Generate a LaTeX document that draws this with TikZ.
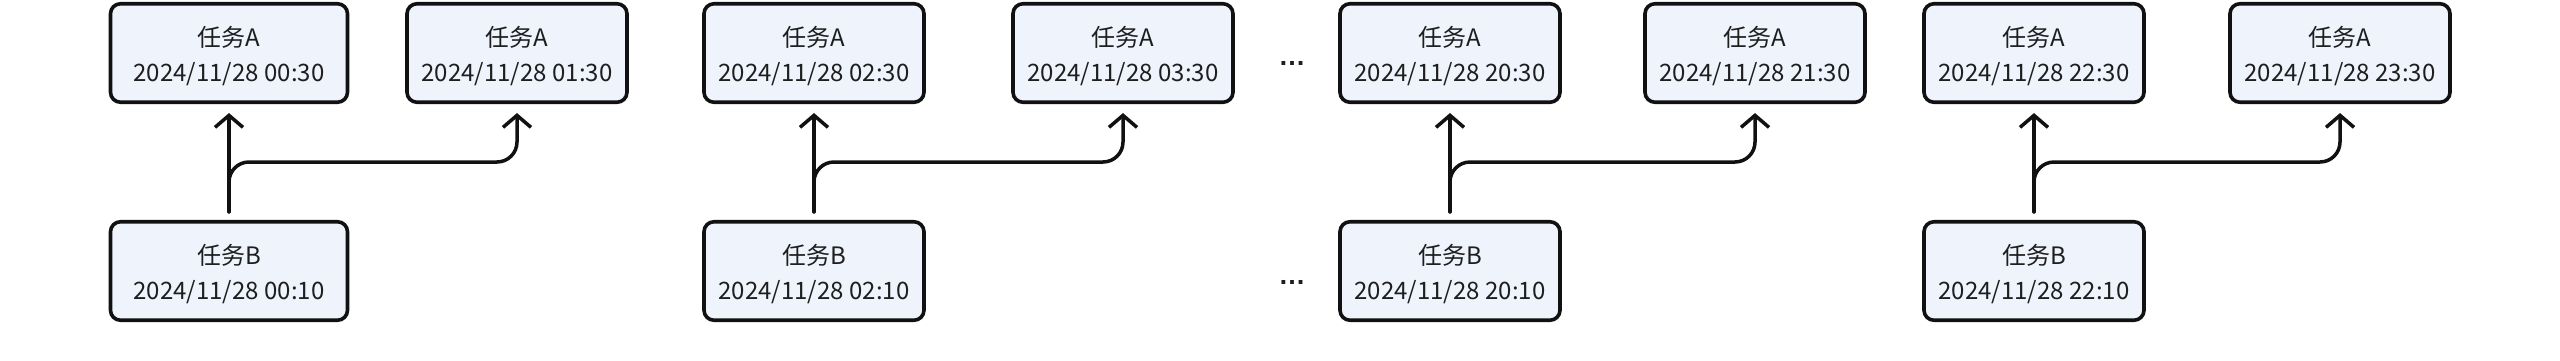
\documentclass[tikz,border=0pt]{standalone}
\usepackage{fontspec}
\setmainfont{Noto Sans CJK SC}
\newfontfamily\dotfont{Liberation Sans}
\usetikzlibrary{arrows.meta}
\definecolor{boxfill}{HTML}{EEF3FC}
\definecolor{txt}{HTML}{1E1E1E}
\definecolor{edge}{HTML}{111111}
\begin{document}
\begin{tikzpicture}[x=1pt,y=-1pt,
  task/.style={draw=edge, fill=boxfill, line width=3.6pt, rounded corners=10pt,
    minimum width=220pt, minimum height=98.5pt, align=center, inner sep=0pt,
    text height=61pt, font=\fontsize{24}{35}\selectfont, text=txt},
  wide/.style={minimum width=237pt},
  link/.style={draw=edge, line width=3.5pt, line cap=round, line join=round,
    -{Straight Barb[length=12pt,width=28pt]}, shorten <=8pt, shorten >=9pt},
  dots/.style={font=\dotfont\bfseries\fontsize{27}{27}\selectfont, text=txt, anchor=base, inner sep=0pt}
  ]
\fill[white] (0,0) rectangle (2560,360);
\useasboundingbox (0,0) rectangle (2560,360);
\coordinate (h) at (0,162);

\node[task,wide] (a1) at (229,53) {任务A\\2024/11/28 00:30};
\node[task] (a2) at (517,53) {任务A\\2024/11/28 01:30};
\node[task] (a3) at (814,53) {任务A\\2024/11/28 02:30};
\node[task] (a4) at (1123,53) {任务A\\2024/11/28 03:30};
\node[task] (a5) at (1450,53) {任务A\\2024/11/28 20:30};
\node[task] (a6) at (1755,53) {任务A\\2024/11/28 21:30};
\node[task] (a7) at (2034,53) {任务A\\2024/11/28 22:30};
\node[task] (a8) at (2340,53) {任务A\\2024/11/28 23:30};

\node[task,wide] (b1) at (229,271) {任务B\\2024/11/28 00:10};
\node[task] (b2) at (814,271) {任务B\\2024/11/28 02:10};
\node[task] (b3) at (1450,271) {任务B\\2024/11/28 20:10};
\node[task] (b4) at (2034,271) {任务B\\2024/11/28 22:10};

\node[dots] (d1) at (1292,65) {…};
\node[dots] (d2) at (1292,284) {…};

\foreach \b/\p/\q in {b1/a1/a2, b2/a3/a4, b3/a5/a6, b4/a7/a8}{
  \draw[link] (\b.north) -- (\p.south);
  \draw[link, rounded corners=20pt] (\b.north) -- (\b.north |- h) -| (\q.south);
}
\end{tikzpicture}
\end{document}
